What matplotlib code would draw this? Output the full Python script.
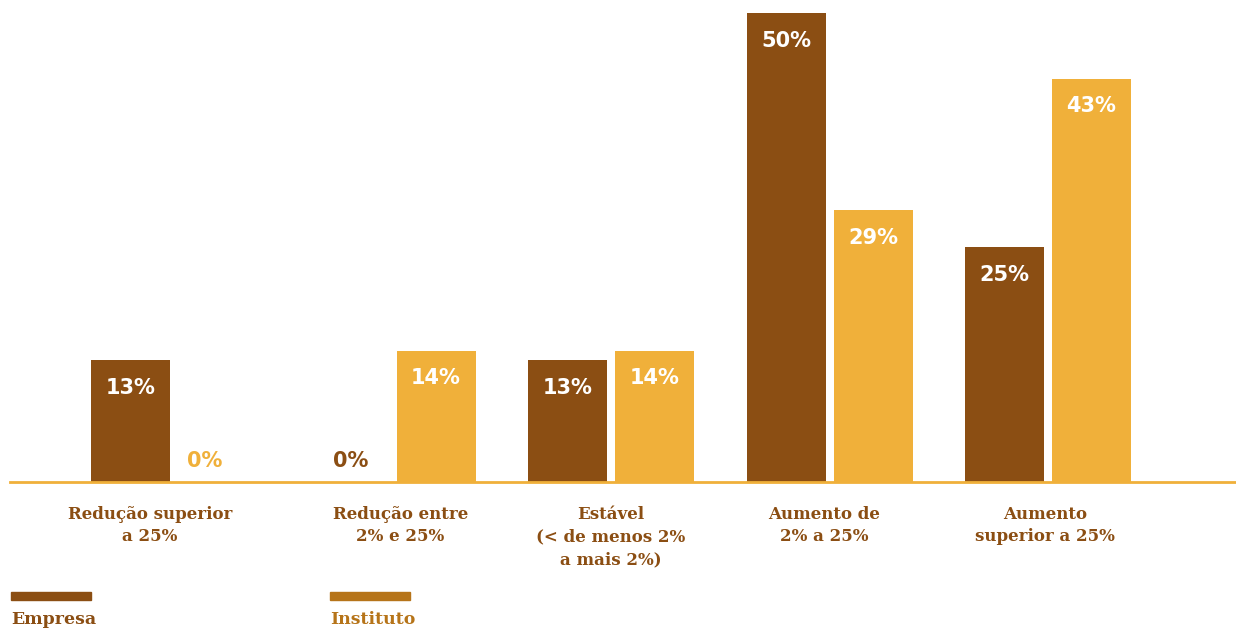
import numpy as np
import matplotlib.pyplot as plt
from matplotlib.patches import Rectangle

categories = ['Redução superior\na 25%', 'Redução entre\n2% e 25%',
              'Estável\n(< de menos 2%\na mais 2%)', 'Aumento de\n2% a 25%',
              'Aumento\nsuperior a 25%']
empresa = [13, 0, 13, 50, 25]
instituto = [0, 14, 14, 29, 43]
series_names = ['Empresa', 'Instituto']

brown = '#8B4E13'
gold = '#F0B03A'
legend_gold = '#B67419'

W, H = 1236, 628
fig = plt.figure(figsize=(W / 100, H / 100), dpi=100)
ax = fig.add_axes([0, 0, 1, 1])
ax.set_axis_off()

# group spacing 218.5px, bar 79px, second bar offset 87px
gs = 218.5
bw = 79 / gs
off = 43.5 / gs
x = np.arange(len(categories))

b1 = ax.bar(x - off, empresa, width=bw, color=brown)
b2 = ax.bar(x + off, instituto, width=bw, color=gold)

ax.set_xlim(-174 / gs, (W - 174) / gs)
ppu = 9.38
ax.set_ylim(-(H - 482) / ppu, 482 / ppu)

ax.axhline(0, xmin=10 / W, xmax=1, color=gold, lw=2, zorder=3)

val_font = dict(family='DejaVu Sans', weight='bold', fontsize=15)
zero_dx = [2, -13]  # px shift of the "0%" labels
for k, (bars, vals, col) in enumerate([(b1, empresa, brown), (b2, instituto, gold)]):
    for r, v in zip(bars, vals):
        cx = r.get_x() + r.get_width() / 2
        if v > 0:
            ax.annotate(f'{v}%', (cx, v), xytext=(0, -20), textcoords='offset points',
                        ha='center', va='center', color='white', **val_font)
        else:
            ax.annotate(f'{v}%', (cx, 0), xytext=(zero_dx[k] * 0.72, 15),
                        textcoords='offset points',
                        ha='center', va='center', color=col, **val_font)

lab_font = dict(family='DejaVu Serif', weight='bold', fontsize=12)
label_dx = [-24, 8, 0, -5, -3]
for i, c in enumerate(categories):
    ax.annotate(c, (i, 0), xytext=(label_dx[i] * 0.72, -17), textcoords='offset points',
                ha='center', va='top', color=brown, linespacing=1.45, **lab_font)

# legend
leg_font = dict(family='DejaVu Serif', weight='bold', fontsize=12.5)
for (lx, col, name) in [(11, brown, series_names[0]), (330, legend_gold, series_names[1])]:
    fig.patches.append(Rectangle((lx / W, 1 - 600 / H), 80 / W, 8 / H,
                                 transform=fig.transFigure, color=col))
    fig.text(lx / W, 1 - 619 / H, name, ha='left', va='center', color=col, **leg_font)

fig.savefig('out.png', dpi=100, facecolor='white')
